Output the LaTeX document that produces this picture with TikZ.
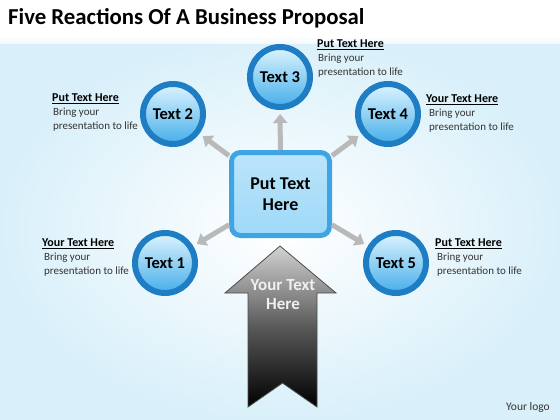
\documentclass[tikz,border=0pt]{standalone}
\usepackage{fontspec}
\setmainfont{Carlito}
\usetikzlibrary{arrows.meta}
\definecolor{ringblue}{HTML}{1F7DC4}
\definecolor{innertop}{HTML}{DDF4FE}
\definecolor{innerbot}{HTML}{45AEEA}
\definecolor{boxborder}{HTML}{3FA4E4}
\definecolor{boxfill}{HTML}{9ED9F8}
\definecolor{bgblue}{HTML}{D9F0FA}
\definecolor{bodygray}{HTML}{333333}
\tikzset{
  bubble/.style={circle, minimum size=60pt, inner sep=0pt, draw=ringblue, line width=6pt,
    top color=innertop, bottom color=innerbot, font=\bfseries\fontsize{16.5}{19}\selectfont},
  centerbox/.style={rounded corners=9pt, minimum width=98pt, minimum height=83pt, draw=boxborder,
    line width=5pt, top color=boxfill!70!white, bottom color=boxfill, align=center,
    font=\bfseries\fontsize{18}{21}\selectfont},
  feeler/.style={draw=gray!55, line width=5pt, -{Triangle[length=9pt,width=14pt]}, shorten >=4pt},
  labtitle/.style={anchor=west, inner sep=0pt, font=\bfseries\fontsize{12}{14}\selectfont},
  labbody/.style={anchor=north west, inner sep=0pt, align=left, text=bodygray,
    font=\fontsize{11}{14}\selectfont}
}
\begin{document}
\begin{tikzpicture}[x=1pt,y=-1pt]
\useasboundingbox (0,0) rectangle (560,420);
% background
\shade[inner color=white, outer color=bgblue] (0,36) rectangle (560,420);
\fill[white] (0,0) rectangle (560,36);
\shade[top color=white, bottom color=white!60!bgblue] (0,36) rectangle (560,44);
% title
\node[anchor=west, inner sep=0pt, font=\bfseries\fontsize{22.8}{26}\selectfont] (title) at (8,18) {Five Reactions Of A Business Proposal};
% center box
\node[centerbox] (box) at (280.5,194) {Put Text\\Here};
% circles
\node[bubble] (c1) at (165,263) {Text 1};
\node[bubble] (c2) at (173,114) {Text 2};
\node[bubble] (c3) at (280,77) {Text 3};
\node[bubble] (c4) at (388,114) {Text 4};
\node[bubble] (c5) at (396,263) {Text 5};
% connectors
\draw[feeler] (box) -- (c1);
\draw[feeler] (box) -- (c2);
\draw[feeler] (box) -- (c3);
\draw[feeler] (box) -- (c4);
\draw[feeler] (box) -- (c5);
% big arrow
\shade[top color=gray!35, bottom color=black, middle color=gray!70!black, draw=black!70, line width=0.8pt]
  (280,246) -- (336,293) -- (317,293) -- (317,407) -- (282.5,383) -- (248,407) -- (248,293) -- (225,293) -- cycle;
\node[align=center, text=gray!12, font=\bfseries\fontsize{17}{19}\selectfont] (bigtext) at (283,295) {Your Text\\Here};
% labels
\node[labtitle] (t2) at (52,99) {\underline{Put Text Here}};
\node[labbody] (b2) at (53,108) {Bring your\\presentation to life};
\node[labtitle] (t3) at (317,45) {\underline{Put Text Here}};
\node[labbody] (b3) at (318,54) {Bring your\\presentation to life};
\node[labtitle] (t4) at (426,100) {\underline{Your Text Here}};
\node[labbody] (b4) at (429,109) {Bring your\\presentation to life};
\node[labtitle] (t1) at (42,244) {\underline{Your Text Here}};
\node[labbody] (b1) at (44,253) {Bring your\\presentation to life};
\node[labtitle] (t5) at (435,244) {\underline{Put Text Here}};
\node[labbody] (b5) at (437,253) {Bring your\\presentation to life};
% logo
\node[anchor=west, inner sep=0pt, text=bodygray, font=\fontsize{11.5}{13}\selectfont] (logo) at (506,407) {Your logo};
\end{tikzpicture}
\end{document}
